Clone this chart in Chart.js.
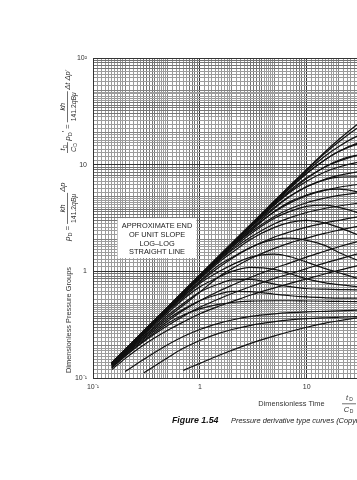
<!DOCTYPE html>
<html><head><meta charset="utf-8">
<script src="https://cdn.jsdelivr.net/npm/chart.js@4.4.1/dist/chart.umd.min.js"></script>
<style>
html,body{margin:0;padding:0;background:#fff;overflow:hidden;}
body{width:357px;height:480px;}
#wrap{width:540px;height:480px;}
canvas{display:block;}
</style></head><body><div id="wrap"><canvas id="c" width="540" height="480"></canvas></div>
<script>
// ---------- data (t_D/C_D on x, dimensionless pressure groups on y) ----------
const timeGrid = [0.15,0.2,0.3,0.5,0.7,1,1.5,2,3,5,7,10,15,20,30,50,80];

// pressure curves, by C_D e^{2S}
const pressure_1e40 = [0.138,0.184,0.276,0.46,0.644,0.92,1.38,1.84,2.76,4.58,6.38,9.03,13.3,17.2,23.9,33.4,40.6];
const pressure_1e30 = [0.138,0.184,0.276,0.46,0.644,0.92,1.38,1.84,2.75,4.56,6.34,8.91,12.9,16.4,22.1,28.8,33.1];
const pressure_1e20 = [0.138,0.184,0.276,0.46,0.644,0.92,1.38,1.835,2.74,4.52,6.23,8.62,12.1,14.8,18.6,22.2,24.2];
const pressure_1e15 = [0.138,0.184,0.276,0.46,0.643,0.919,1.376,1.83,2.73,4.46,6.09,8.26,11.2,13.3,15.9,18.1,19.2];
const pressure_1e10 = [0.138,0.184,0.276,0.459,0.643,0.917,1.371,1.82,2.69,4.33,5.76,7.52,9.57,10.8,12.2,13.3,13.9];
const pressure_1e8  = [0.138,0.184,0.276,0.459,0.642,0.916,1.366,1.81,2.66,4.21,5.5,6.99,8.58,9.51,10.5,11.2,11.7];
const pressure_1e6  = [0.138,0.184,0.276,0.459,0.641,0.913,1.357,1.79,2.6,4.0,5.08,6.23,7.34,7.95,8.57,9.09,9.42];
const pressure_1e4  = [0.138,0.184,0.276,0.458,0.638,0.905,1.334,1.74,2.47,3.61,4.38,5.12,5.78,6.14,6.52,6.89,7.17];
const pressure_1e3  = [0.138,0.184,0.275,0.456,0.634,0.895,1.306,1.69,2.34,3.27,3.86,4.4,4.87,5.15,5.45,5.76,6.03];
const pressure_100  = [0.138,0.183,0.274,0.452,0.624,0.871,1.247,1.58,2.1,2.79,3.19,3.56,3.9,4.1,4.35,4.64,4.9];
const pressure_10   = [0.135,0.179,0.265,0.43,0.583,0.792,1.086,1.32,1.67,2.1,2.35,2.6,2.85,3.01,3.24,3.5,3.75];
const pressure_3    = [0.132,0.172,0.245,0.37,0.48,0.64,0.887,1.06,1.32,1.64,1.85,2.05,2.28,2.43,2.64,2.9,3.14];
const pressure_1    = [0.128,0.166,0.232,0.34,0.43,0.53,0.65,0.74,0.88,1.07,1.2,1.36,1.55,1.7,1.9,2.15,2.4];
const pressure_0_3  = [0.125,0.16,0.22,0.31,0.38,0.46,0.55,0.62,0.72,0.86,0.95,1.06,1.2,1.3,1.46,1.68,1.9];
const pressure_0_1  = [0.12,0.152,0.205,0.28,0.335,0.4,0.47,0.52,0.6,0.7,0.77,0.85,0.95,1.02,1.13,1.3,1.46];

// derivative curves (t_D/C_D) p_D', by C_D e^{2S}
const derivative_1e40 = [0.135,0.18,0.27,0.45,0.63,0.9,1.35,1.79,2.68,4.4,6.0,8.3,11.2,13.3,15.6,17.0,16.0];
const derivative_1e30 = [0.135,0.18,0.27,0.45,0.625,0.89,1.33,1.76,2.6,4.2,5.6,7.4,9.6,11.0,12.3,12.6,11.8];
const derivative_1e20 = [0.135,0.18,0.27,0.447,0.62,0.88,1.31,1.73,2.5,3.9,5.05,6.2,7.25,7.65,7.7,7.0,6.0];
const derivative_1e15 = [0.135,0.18,0.268,0.445,0.615,0.87,1.3,1.69,2.4,3.65,4.5,5.2,5.8,5.9,5.55,4.5,3.75];
const derivative_1e10 = [0.134,0.179,0.266,0.44,0.61,0.86,1.27,1.62,2.25,3.15,3.65,4.07,4.18,3.98,3.55,2.85,2.35];
const derivative_1e8  = [0.134,0.178,0.265,0.437,0.605,0.846,1.21,1.5,2.0,2.58,2.88,3.0,2.83,2.58,2.2,1.78,1.45];
const derivative_1e6  = [0.133,0.177,0.262,0.43,0.59,0.81,1.14,1.35,1.68,1.99,2.05,1.95,1.74,1.5,1.27,1.03,0.88];
const derivative_1e4  = [0.132,0.176,0.26,0.42,0.565,0.77,0.99,1.15,1.36,1.45,1.37,1.22,1.06,0.97,0.86,0.76,0.69];
const derivative_1e3  = [0.131,0.174,0.255,0.405,0.548,0.715,0.88,1.0,1.09,1.045,0.95,0.85,0.78,0.75,0.72,0.68,0.65];
const derivative_100  = [0.13,0.172,0.248,0.386,0.5,0.64,0.76,0.83,0.84,0.76,0.72,0.69,0.68,0.675,0.67,0.66,0.65];
const derivative_10   = [0.128,0.168,0.238,0.355,0.44,0.53,0.61,0.65,0.645,0.61,0.59,0.575,0.565,0.56,0.56,0.55,0.54];
const derivative_3    = [0.124,0.162,0.225,0.325,0.39,0.445,0.49,0.51,0.525,0.53,0.53,0.527,0.524,0.522,0.52,0.515,0.51];
const derivative_1    = [null,0.115,0.15,0.205,0.245,0.285,0.325,0.35,0.378,0.4,0.41,0.417,0.422,0.426,0.432,0.44,0.448];
const derivative_0_3  = [null,null,0.112,0.155,0.19,0.225,0.262,0.285,0.312,0.337,0.35,0.36,0.367,0.371,0.376,0.384,0.392];
const derivative_0_1  = [null,null,null,null,0.118,0.137,0.1625,0.182,0.211,0.248,0.273,0.299,0.327,0.344,0.366,0.389,0.408];

// axes
const xTickValues = [0.1,1,10,100,1000];
const xTickText   = ['10\u207B\u00B9','1','10','10\u00B2','10\u00B3'];
const yTickValues = [0.1,1,10,100];
const yTickText   = ['10\u207B\u00B9','1','10','10\u00B2'];
const gridMantissas = [1,1.1,1.2,1.3,1.4,1.5,1.6,1.7,1.8,1.9,2,2.2,2.4,2.6,2.8,3,3.2,3.4,3.6,3.8,4,4.2,4.4,4.6,4.8,5,5.5,6,6.5,7,7.5,8,8.5,9,9.5];

const annotationLines = ['APPROXIMATE END','OF UNIT SLOPE','LOG\u2013LOG','STRAIGHT LINE'];

// ---------- build ----------
const curveList = [
  pressure_1e40,pressure_1e30,pressure_1e20,pressure_1e15,pressure_1e10,pressure_1e8,pressure_1e6,pressure_1e4,
  pressure_1e3,pressure_100,pressure_10,pressure_3,pressure_1,pressure_0_3,pressure_0_1,
  derivative_1e40,derivative_1e30,derivative_1e20,derivative_1e15,derivative_1e10,derivative_1e8,derivative_1e6,
  derivative_1e4,derivative_1e3,derivative_100,derivative_10,derivative_3,derivative_1,derivative_0_3,derivative_0_1
];
const datasets = curveList.map(arr => ({
  data: timeGrid.map((t,i)=>({x:t, y:arr[i]})),
  borderColor:'#111', borderWidth:1.2, pointRadius:0, fill:false,
  cubicInterpolationMode:'monotone'
}));

function gridValues(min,max){
  const out=[];
  for(let d=min; d<max*0.999; d*=10){
    for(const m of gridMantissas) out.push(Number((m*d).toPrecision(6)));
  }
  out.push(max);
  return out;
}
function mant(v){ const e=Math.floor(Math.log10(v)+1e-9); return Number((v/Math.pow(10,e)).toPrecision(6)); }
function gridColor(v){
  const m = mant(v);
  if (m===1) return '#333333';
  if ((m>=8 && m<10) || (m>=3 && m<4)) return '#747474';
  if (m===2 || m===5) return '#828282';
  return '#9c9c9c';
}
function labelFor(vals, texts, v){
  const i = vals.findIndex(t=>Math.abs(t-v)/t<1e-6);
  return i>=0 ? texts[i] : '';
}
const FONT = '"Liberation Sans", Arial, Helvetica, sans-serif';
const F = (s, st='') => `${st} ${s}px ${FONT}`;

function measureSeq(ctx, seq){ let w=0; for(const it of seq){ if(it.gap){w+=it.gap;continue;} ctx.font=it.f; w+=ctx.measureText(it.t).width; } return w; }
function drawSeq(ctx, seq, u, v){ for(const it of seq){ if(it.gap){u+=it.gap;continue;} ctx.font=it.f; ctx.fillText(it.t,u,v+(it.dv||0)); u+=ctx.measureText(it.t).width; } return u; }
function drawRot(ctx, cx, y0, parts){
  ctx.save(); ctx.translate(cx, y0); ctx.rotate(-Math.PI/2);
  ctx.textBaseline='alphabetic'; ctx.textAlign='left'; ctx.fillStyle='#333';
  let u=0;
  for(const p of parts){
    if(p.gap){ u+=p.gap; continue; }
    if(p.frac){
      const wn=measureSeq(ctx,p.num), wd=measureSeq(ctx,p.den), w=Math.max(wn,wd)+2;
      drawSeq(ctx,p.num,u+(w-wn)/2,p.nv); drawSeq(ctx,p.den,u+(w-wd)/2,p.dv);
      ctx.fillRect(u, p.bv, w, 0.7); u+=w;
    } else { u = drawSeq(ctx,[p],u,p.v); }
  }
  ctx.restore();
}
const denom = [{t:'141.2',f:F(6.8)},{t:'qB\u03BC',f:F(6.8,'italic')}];
const formula1 = [
  {t:'p',f:F(8,'italic'),v:3},{t:'D',f:F(5.5),v:5},{gap:2},{t:'=',f:F(8),v:3},{gap:2},
  {frac:true,num:[{t:'kh',f:F(7.2,'italic')}],den:denom,nv:-2,dv:8.5,bv:0.3},{gap:1},
  {t:'\u0394p',f:F(7.5,'italic'),v:-2}
];
const formula2 = [
  {frac:true,num:[{t:'t',f:F(7.2,'italic')},{t:'D',f:F(5),dv:1.5}],den:[{t:'C',f:F(7.2,'italic')},{t:'D',f:F(5),dv:1.5}],nv:-2,dv:8.5,bv:0.3},
  {gap:1.5},{t:'p',f:F(8,'italic'),v:3},{t:'D',f:F(5.5),v:5},{t:'\u2032',f:F(7),v:0},{gap:2},{t:'=',f:F(8),v:3},{gap:2},
  {frac:true,num:[{t:'kh',f:F(7.2,'italic')}],den:denom,nv:-2,dv:8.5,bv:0.3},{gap:1.5},
  {t:'\u0394t \u0394p\u2032',f:F(7.5,'italic'),v:3}
];

const decor = {
  id:'decor',
  beforeDatasetsDraw(chart){
    const {ctx, scales:{x,y}} = chart;
    const x0=x.getPixelForValue(0.17), x1=x.getPixelForValue(0.93);
    const y0=y.getPixelForValue(3.15), y1=y.getPixelForValue(1.33);
    ctx.save();
    ctx.fillStyle='#fff'; ctx.fillRect(x0,y0,x1-x0,y1-y0);
    ctx.fillStyle='#1a1a1a'; ctx.font=F(7.4); ctx.textAlign='center'; ctx.textBaseline='middle';
    annotationLines.forEach((l,i)=>ctx.fillText(l,(x0+x1)/2,y0+7.5+i*8.9));
    ctx.restore();
  },
  afterDraw(chart){
    const ctx = chart.ctx;
    ctx.save();
    ctx.fillStyle='#333';
    ctx.save(); ctx.translate(70.5, 373); ctx.rotate(-Math.PI/2);
    ctx.font=F(7.4); ctx.textAlign='left'; ctx.textBaseline='alphabetic';
    ctx.fillText('Dimensionless Pressure Groups',0,0); ctx.restore();
    drawRot(ctx, 67, 241, formula1);
    drawRot(ctx, 67, 153, formula2);
    ctx.font=F(7.4); ctx.textAlign='center'; ctx.textBaseline='middle';
    ctx.fillText('Dimensionless Time', 291.5, 404);
    ctx.font=F(7.5,'italic'); ctx.fillText('t', 347, 398);
    ctx.font=F(5); ctx.fillText('D', 351, 400);
    ctx.fillRect(342, 403.5, 14, 0.7);
    ctx.font=F(7.5,'italic'); ctx.fillText('C', 346.5, 409.5);
    ctx.font=F(5); ctx.fillText('D', 351.5, 411.5);
    ctx.textAlign='left'; ctx.textBaseline='middle'; ctx.fillStyle='#111';
    ctx.font=F(8.8,'bold italic'); ctx.fillText('Figure 1.54', 172, 421);
    ctx.font=F(7.4,'italic'); ctx.fillStyle='#222';
    ctx.fillText('Pressure derivative type curves (Copyright \u00A9 1983 World Oil, Bourdet et al.)', 231, 421);
    ctx.restore();
  }
};

new Chart(document.getElementById('c'), {
  type:'line',
  data:{ datasets },
  options:{
    responsive:false, animation:false, events:[],
    layout:{ padding:{ left:0, top:58, right:19.7, bottom:0 } },
    plugins:{ legend:{display:false}, tooltip:{enabled:false}, title:{display:false} },
    scales:{
      x:{
        type:'logarithmic', min:0.1, max:1000, position:'bottom',
        afterBuildTicks:(s)=>{ s.ticks = gridValues(0.1,1000).map(v=>({value:v})); },
        afterFit:(s)=>{ s.height = 102; },
        ticks:{ autoSkip:false, maxRotation:0, minRotation:0, padding:5, color:'#333',
          font:{ size:7, family:FONT }, callback:(v)=>labelFor(xTickValues,xTickText,v) },
        grid:{ drawTicks:false, tickLength:0, color:(c)=>gridColor(c.tick.value), lineWidth:1 },
        border:{ display:true, color:'#333', width:1 }
      },
      y:{
        type:'logarithmic', min:0.1, max:100,
        afterBuildTicks:(s)=>{ s.ticks = gridValues(0.1,100).map(v=>({value:v})); },
        afterFit:(s)=>{ s.width = 93; },
        ticks:{ autoSkip:false, padding:6, color:'#333',
          font:{ size:7, family:FONT }, callback:(v)=>labelFor(yTickValues,yTickText,v) },
        grid:{ drawTicks:false, tickLength:0, color:(c)=>gridColor(c.tick.value), lineWidth:1 },
        border:{ display:true, color:'#333', width:1 }
      }
    }
  },
  plugins:[decor]
});
</script>
</body></html>
